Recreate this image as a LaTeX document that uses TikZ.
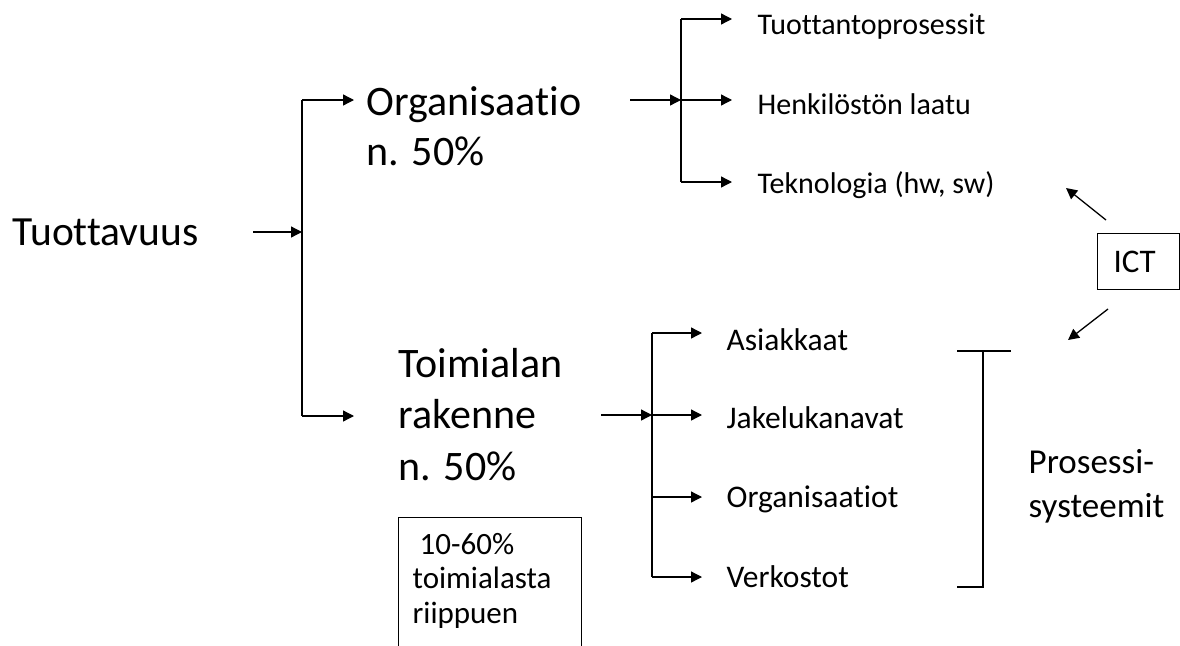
\documentclass[tikz,border=0pt]{standalone}
\usepackage{fontspec}
\setmainfont[Ligatures=NoCommon]{Carlito}
\usetikzlibrary{arrows.meta}
\begin{document}
\begin{tikzpicture}[x=1pt,y=-1pt,
  line width=1.3pt,
  conn/.style={draw=black},
  arr/.style={conn,-{Triangle[length=11pt,width=11pt]}},
  big/.style={inner sep=0pt,anchor=base west,align=left,font=\fontsize{42}{51.5}\selectfont},
  small/.style={inner sep=0pt,anchor=base west,font=\fontsize{30}{36}\selectfont},
  smallb/.style={inner sep=0pt,anchor=base west,font=\fontsize{31.5}{36}\selectfont},
  boxline/.style={draw=black,line width=1pt}]
\useasboundingbox (0,0) rectangle (1180,645);
% main texts
\node[big,font=\fontsize{41.5}{50}\selectfont] (tuot) at (12,245) {Tuottavuus};
\node[big,font=\fontsize{42}{50}\selectfont] (org) at (366,165) {Organisaatio\\n. 50\%};
\node[big] (toim) at (398,480) {Toimialan\\rakenne\\n. 50\%};
% first split
\coordinate (t0) at (253,232);
\coordinate (t1) at (302,232);
\coordinate (tA) at (302,100);
\coordinate (tB) at (302,416);
\coordinate (tAe) at (354,100);
\coordinate (tBe) at (354,416);
\draw[arr] (t0) -- (t1);
\draw[conn] (tA) -- (tB);
\draw[arr] (tA) -- (tAe);
\draw[arr] (tB) -- (tBe);
% top group
\node[small] (l1) at (757,34) {Tuottantoprosessit};
\node[small] (l2) at (757,114) {Henkilöstön laatu};
\node[small] (l3) at (757,193) {Teknologia (hw, sw)};
\coordinate (o0) at (630,100);
\coordinate (o1) at (681,100);
\coordinate (oA) at (681,19);
\coordinate (oC) at (681,182);
\draw[arr] (o0) -- (o1);
\draw[conn] (oA) -- (oC);
\coordinate (oAe) at (732,19);
\coordinate (oBe) at (732,100);
\coordinate (oCe) at (732,182);
\draw[arr] (oA) -- (oAe);
\draw[arr] (o1) -- (oBe);
\draw[arr] (oC) -- (oCe);
% bottom group
\node[smallb] (m1) at (726,350) {Asiakkaat};
\node[smallb] (m2) at (726,428) {Jakelukanavat};
\node[smallb] (m3) at (726,507) {Organisaatiot};
\node[smallb] (m4) at (726,587) {Verkostot};
\coordinate (r0) at (601,415);
\coordinate (r1) at (652,415);
\coordinate (rA) at (652,333);
\coordinate (rC) at (652,497);
\coordinate (rD) at (652,577);
\draw[arr] (r0) -- (r1);
\draw[conn] (rA) -- (rD);
\coordinate (rAe) at (702,333);
\coordinate (rBe) at (702,415);
\coordinate (rCe) at (702,497);
\coordinate (rDe) at (702,577);
\draw[arr] (rA) -- (rAe);
\draw[arr] (r1) -- (rBe);
\draw[arr] (rC) -- (rCe);
\draw[arr] (rD) -- (rDe);
% bracket
\coordinate (b1) at (957,351);
\coordinate (b2) at (1011,351);
\coordinate (b3) at (983,351);
\coordinate (b4) at (983,587);
\coordinate (b5) at (957,587);
\draw[conn] (b1) -- (b2);
\draw[conn] (b3) -- (b4) -- (b5);
\node[inner sep=0pt,anchor=base west,align=left,font=\fontsize{35}{44}\selectfont] (pros) at (1028,517) {Prosessi-\\systeemit};
% ICT
\draw[boxline] (1097,233) rectangle (1179,289);
\node[inner sep=0pt,anchor=base west,font=\fontsize{33}{40}\selectfont] (ict) at (1113,272) {ICT};
\coordinate (i1) at (1106,220);
\coordinate (i1e) at (1066,188);
\coordinate (i2) at (1108,309);
\coordinate (i2e) at (1068,340);
\draw[arr] (i1) -- (i1e);
\draw[arr] (i2) -- (i2e);
% small box
\draw[boxline] (398,660) -- (398,517) -- (581,517) -- (581,660);
\node[inner sep=0pt,anchor=base west,align=left,font=\fontsize{31}{34.5}\selectfont] (note) at (412,623) {\ 10-60\%\\toimialasta\\riippuen};
\end{tikzpicture}
\end{document}
